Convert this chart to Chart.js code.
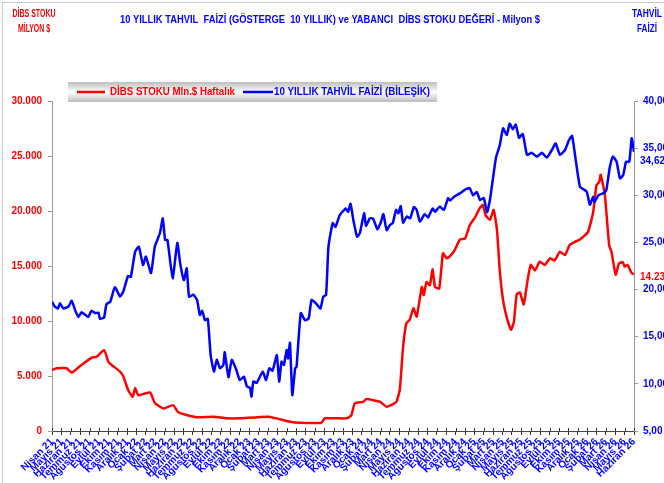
<!DOCTYPE html>
<html>
<head>
<meta charset="utf-8">
<script src="https://cdn.jsdelivr.net/npm/chart.js@4.4.1/dist/chart.umd.min.js"></script>
<style>
  html, body { margin: 0; padding: 0; background: #fff; }
  #wrap { width: 664px; height: 483px; position: relative; }
</style>
</head>
<body>
<div id="wrap"><canvas id="chart" width="664" height="483"></canvas></div>
<script>
// Month tick labels (one per month, Nisan 21 .. Haziran 26)
const monthLabels = [
  'Nisan 21', 'Mayıs 21', 'Haziran 21', 'Temmuz 21', 'Ağustos 21', 'Eylül 21', 'Ekim 21', 'Kasım 21', 'Aralık 21',
  'Ocak 22', 'Şubat 22', 'Mart 22', 'Nisan 22', 'Mayıs 22', 'Haziran 22', 'Temmuz 22', 'Ağustos 22', 'Eylül 22', 'Ekim 22', 'Kasım 22', 'Aralık 22',
  'Ocak 23', 'Şubat 23', 'Mart 23', 'Nisan 23', 'Mayıs 23', 'Haziran 23', 'Temmuz 23', 'Ağustos 23', 'Eylül 23', 'Ekim 23', 'Kasım 23', 'Aralık 23',
  'Ocak 24', 'Şubat 24', 'Mart 24', 'Nisan 24', 'Mayıs 24', 'Haziran 24', 'Temmuz 24', 'Ağustos 24', 'Eylül 24', 'Ekim 24', 'Kasım 24', 'Aralık 24',
  'Ocak 25', 'Şubat 25', 'Mart 25', 'Nisan 25', 'Mayıs 25', 'Haziran 25', 'Temmuz 25', 'Ağustos 25', 'Eylül 25', 'Ekim 25', 'Kasım 25', 'Aralık 25',
  'Ocak 26', 'Şubat 26', 'Mart 26', 'Nisan 26', 'Mayıs 26', 'Haziran 26'
];

// DİBS stoku (Mln $) - time in months since Nisan 21, value
const stockT = [0, 0.5, 1.56, 2.1, 3.0, 4.2, 4.75, 5.55, 6.0, 6.35, 7.25, 7.6, 8.1, 8.6, 8.85, 9.2, 10.45, 10.95, 11.85, 12.9,
  13.45, 14.35, 15.4, 17.2, 18.6, 20.0, 23.05, 25.35, 26.4, 28.7, 29.05, 31.4, 31.9, 32.25, 33.15, 33.5, 34.95, 35.65, 36.35, 36.7,
  37.05, 37.4, 37.75, 38.1, 38.5, 38.85, 39.4, 39.6, 39.9, 40.25, 40.55, 40.8, 41.25, 41.65, 42.05, 42.4, 42.9, 43.45, 44.0, 44.5,
  45.05, 45.6, 45.9, 46.2, 46.65, 47.05, 47.4, 47.7, 48.05, 48.45, 48.9, 49.2, 49.5, 49.85, 50.25, 50.7, 51.0, 51.45, 51.95, 52.5,
  53.05, 53.55, 54.1, 54.65, 55.15, 55.7, 56.25, 57.1, 57.65, 58.0, 58.3, 58.45, 58.9, 59.35, 59.6, 60.05, 60.4, 60.8, 61.0, 61.3,
  61.75, 62.0];
const stockV = [5550, 5700, 5700, 5300, 5900, 6650, 6750, 7350, 6300, 6000, 5400, 4950, 3750, 3100, 3900, 3250, 3500, 2550, 2050, 2350,
  1700, 1450, 1250, 1300, 1150, 1150, 1300, 850, 750, 750, 1150, 1150, 1450, 2500, 2650, 2900, 2650, 2200, 2450, 2650,
  3750, 7650, 9800, 10100, 11150, 10400, 13100, 12350, 13550, 13250, 14700, 13100, 12950, 16150, 15700, 15900, 16450, 17400, 17500, 18700,
  19400, 20300, 20550, 19600, 19200, 20100, 18300, 14600, 11900, 10300, 9200, 9900, 12400, 12600, 11500, 13900, 15100, 14600, 15400, 15100,
  15700, 15500, 16300, 16000, 16900, 17200, 17400, 18100, 19900, 22350, 22650, 23300, 21450, 16900, 16300, 14200, 15250, 15350, 14950, 15100,
  14350, 14239];

// 10 yıllık tahvil faizi (%) - time in months since Nisan 21, value
const yieldT = [0, 0.3, 0.65, 0.85, 1.2, 1.75, 2.1, 2.45, 2.8, 3.15, 3.85, 4.2, 4.6, 4.95, 5.1, 5.55, 5.8, 6.2, 6.7, 7.25,
  7.6, 8.1, 8.4, 8.85, 9.25, 9.7, 10.0, 10.55, 10.95, 11.5, 11.8, 12.05, 12.3, 12.85, 13.35, 13.65, 14.05, 14.35, 14.6, 15.05,
  15.45, 15.75, 16.0, 16.3, 16.6, 16.9, 17.25, 17.55, 17.9, 18.25, 18.4, 18.8, 19.15, 19.65, 20.0, 20.45, 20.75, 21.1, 21.25, 21.45,
  21.8, 22.45, 22.8, 23.15, 23.5, 23.95, 24.2, 24.45, 24.7, 25.0, 25.15, 25.35, 25.6, 25.9, 26.05, 26.5, 26.95, 27.35, 27.65, 28.2,
  28.6, 28.9, 29.2, 29.45, 29.9, 30.2, 30.65, 31.3, 31.55, 31.8, 32.1, 32.5, 32.8, 33.25, 33.45, 33.85, 34.2, 34.65, 35.0, 35.3,
  35.65, 36.0, 36.3, 36.65, 36.9, 37.15, 37.4, 37.8, 38.15, 38.55, 38.85, 39.2, 39.7, 40.05, 40.55, 40.8, 41.3, 41.75, 42.2, 42.4,
  42.9, 43.45, 44.0, 44.5, 44.85, 45.25, 45.6, 46.0, 46.35, 46.65, 46.95, 47.3, 47.7, 48.05, 48.45, 48.75, 49.1, 49.4, 49.75, 50.15,
  50.6, 51.1, 51.65, 52.2, 52.7, 53.25, 53.65, 54.1, 54.65, 55.05, 55.4, 55.8, 56.25, 56.95, 57.3, 57.65, 57.8, 58.2, 58.7, 59.05,
  59.4, 59.75, 60.15, 60.5, 60.85, 61.15, 61.5, 61.75, 62.0];
const yieldV = [18.7, 18.2, 18.0, 18.55, 18.0, 18.2, 18.8, 17.85, 17.1, 17.6, 17.1, 17.75, 17.5, 17.55, 16.9, 17.05, 18.45, 18.7, 20.25, 19.25,
  19.8, 21.45, 21.35, 24.0, 24.55, 22.6, 23.5, 21.75, 24.55, 26.0, 27.55, 25.25, 25.25, 21.2, 24.95, 22.8, 21.0, 22.25, 19.25, 19.45,
  18.9, 17.3, 17.75, 16.75, 16.9, 13.05, 11.3, 12.55, 11.65, 12.0, 13.35, 10.7, 12.55, 11.45, 10.4, 10.75, 9.75, 9.55, 8.65, 10.25,
  10.1, 11.3, 10.4, 11.65, 11.4, 13.05, 10.25, 12.35, 12.0, 13.6, 12.7, 14.35, 8.8, 11.65, 11.8, 17.5, 16.75, 16.95, 18.9, 18.45,
  18.0, 19.25, 19.45, 24.55, 27.05, 26.65, 27.9, 28.6, 28.25, 29.1, 27.4, 25.6, 26.0, 28.1, 26.75, 27.55, 27.55, 26.4, 27.05, 28.0,
  26.3, 26.85, 27.05, 28.45, 28.1, 28.85, 27.1, 27.75, 27.55, 28.75, 28.45, 27.2, 28.0, 27.65, 28.6, 28.25, 28.8, 28.45, 29.7, 29.45,
  29.9, 30.2, 30.6, 30.75, 30.0, 30.35, 29.5, 29.7, 28.2, 29.5, 31.6, 34.0, 35.3, 37.1, 36.4, 37.6, 37.0, 37.5, 36.1, 36.5,
  34.3, 34.5, 34.1, 34.5, 34.0, 34.8, 35.5, 34.3, 34.8, 35.8, 36.3, 33.7, 30.9, 30.4, 29.0, 29.85, 29.3, 30.0, 30.2, 30.55,
  32.85, 34.1, 33.55, 31.8, 32.15, 33.55, 33.55, 36.05, 34.62];

const RED = '#ff0000';
const BLUE = '#0000ff';
const FONT = '"Liberation Sans Narrow", "Arial Narrow", "Liberation Sans", Arial, sans-serif';

function toPoints(ts, vs) {
  return ts.map((t, i) => ({ x: t, y: vs[i] }));
}

// draw text squeezed/stretched to a given width
function fitText(ctx, text, x, y, width, align) {
  const w = ctx.measureText(text).width;
  const sx = width / w;
  ctx.save();
  let left = x;
  if (align === 'center') left = x - width / 2;
  else if (align === 'right') left = x - width;
  ctx.translate(left, y);
  ctx.scale(sx, 1);
  ctx.textAlign = 'left';
  ctx.fillText(text, 0, 0);
  ctx.restore();
}

const decorPlugin = {
  id: 'decor',
  afterDraw(chart) {
    const ctx = chart.ctx;
    const area = chart.chartArea;
    ctx.save();

    // outer frame
    ctx.strokeStyle = '#c8c8c8';
    ctx.lineWidth = 1;
    ctx.beginPath();
    ctx.moveTo(2.5, 483);
    ctx.lineTo(2.5, 2.5);
    ctx.lineTo(664, 2.5);
    ctx.stroke();

    ctx.textBaseline = 'middle';

    // titles
    ctx.font = 'bold 11px ' + FONT;
    ctx.fillStyle = BLUE;
    fitText(ctx, '10 YILLIK TAHVIL  FAİZİ (GÖSTERGE  10 YILLIK) ve YABANCI  DİBS STOKU DEĞERİ - Milyon $', 330, 20, 420, 'center');

    ctx.font = 'bold 10px ' + FONT;
    ctx.fillStyle = RED;
    fitText(ctx, 'DİBS STOKU', 34, 14, 43, 'center');
    fitText(ctx, 'MİLYON $', 34, 29, 32, 'center');
    ctx.fillStyle = BLUE;
    fitText(ctx, 'TAHVİL', 647, 14, 30, 'center');
    fitText(ctx, 'FAİZİ', 647, 29, 20, 'center');

    // legend box
    const lx = 68, ly = 82, lw = 369, lh = 20;
    const g = ctx.createLinearGradient(0, ly, 0, ly + lh);
    g.addColorStop(0, '#bdbdbd');
    g.addColorStop(0.5, '#ffffff');
    g.addColorStop(1, '#bdbdbd');
    ctx.fillStyle = g;
    ctx.fillRect(lx, ly, lw, lh);

    const ds = chart.data.datasets;
    const entries = [
      { line: [77, 105], text: [110, 125] },
      { line: [243, 273], text: [274, 156] }
    ];
    ctx.font = 'bold 11px ' + FONT;
    entries.forEach((e, i) => {
      ctx.strokeStyle = ds[i].borderColor;
      ctx.lineWidth = 2.5;
      ctx.beginPath();
      ctx.moveTo(e.line[0], ly + lh / 2);
      ctx.lineTo(e.line[1], ly + lh / 2);
      ctx.stroke();
      ctx.fillStyle = ds[i].borderColor;
      fitText(ctx, ds[i].label, e.text[0], ly + lh / 2, e.text[1], 'left');
    });

    // cross ticks on x axis
    const xs = chart.scales.x;
    ctx.strokeStyle = '#333';
    ctx.lineWidth = 1;
    for (let i = 0; i < monthLabels.length; i++) {
      const px = Math.round(xs.getPixelForValue(i)) + 0.5;
      ctx.beginPath();
      ctx.moveTo(px, area.bottom - 3);
      ctx.lineTo(px, area.bottom);
      ctx.stroke();
    }

    // last-value labels
    const yL = chart.scales.y, yR = chart.scales.y1;
    ctx.font = 'bold 10px ' + FONT;
    ctx.textAlign = 'left';
    const lastStock = stockV[stockV.length - 1];
    const lastYield = yieldV[yieldV.length - 1];
    ctx.fillStyle = RED;
    ctx.fillText(lastStock.toLocaleString('de-DE'), area.right + 6, yL.getPixelForValue(lastStock) + 3);
    ctx.fillStyle = BLUE;
    ctx.fillText(lastYield.toFixed(2).replace('.', ','), area.right + 6, yR.getPixelForValue(lastYield) + 10);

    ctx.restore();
  }
};

const chart = new Chart(document.getElementById('chart').getContext('2d'), {
  type: 'line',
  data: {
    datasets: [
      {
        label: 'DİBS STOKU Mln.$ Haftalık',
        data: toPoints(stockT, stockV),
        borderColor: RED,
        borderWidth: 2.5,
        pointRadius: 0,
        tension: 0.15,
        yAxisID: 'y',
        order: 1
      },
      {
        label: '10 YILLIK TAHVİL FAİZİ (BİLEŞİK)',
        data: toPoints(yieldT, yieldV),
        borderColor: BLUE,
        borderWidth: 2.5,
        pointRadius: 0,
        tension: 0.15,
        yAxisID: 'y1',
        order: 0
      }
    ]
  },
  options: {
    responsive: false,
    animation: false,
    layout: { padding: { top: 101, left: 0, right: 0, bottom: 0 } },
    plugins: {
      legend: { display: false },
      tooltip: { enabled: false }
    },
    scales: {
      x: {
        type: 'linear',
        min: 0,
        max: monthLabels.length - 1,
        afterFit: s => { s.height = 52; },
        grid: { drawOnChartArea: false, tickLength: 4, color: '#333' },
        border: { color: '#444', width: 1 },
        ticks: {
          stepSize: 1,
          autoSkip: false,
          maxTicksLimit: 200,
          minRotation: 45,
          maxRotation: 45,
          padding: 1,
          color: BLUE,
          font: { family: FONT, size: 10, weight: 'bold' },
          callback: v => monthLabels[v]
        }
      },
      y: {
        position: 'left',
        min: 0,
        max: 30000,
        afterFit: s => { s.width = 52; },
        grid: { drawOnChartArea: false, tickLength: 4, color: '#999' },
        border: { color: '#999', width: 1 },
        ticks: {
          stepSize: 5000,
          padding: 6,
          color: RED,
          font: { family: FONT, size: 10, weight: 'bold' },
          callback: v => v === 0 ? '0' : v.toLocaleString('de-DE')
        }
      },
      y1: {
        position: 'right',
        min: 5,
        max: 40,
        afterFit: s => { s.width = 30; },
        grid: { drawOnChartArea: false, tickLength: 4, color: '#999' },
        border: { color: '#999', width: 1 },
        ticks: {
          stepSize: 5,
          padding: 5,
          color: BLUE,
          font: { family: FONT, size: 10, weight: 'bold' },
          callback: v => v.toFixed(2).replace('.', ',')
        }
      }
    }
  },
  plugins: [decorPlugin]
});
</script>
</body>
</html>
